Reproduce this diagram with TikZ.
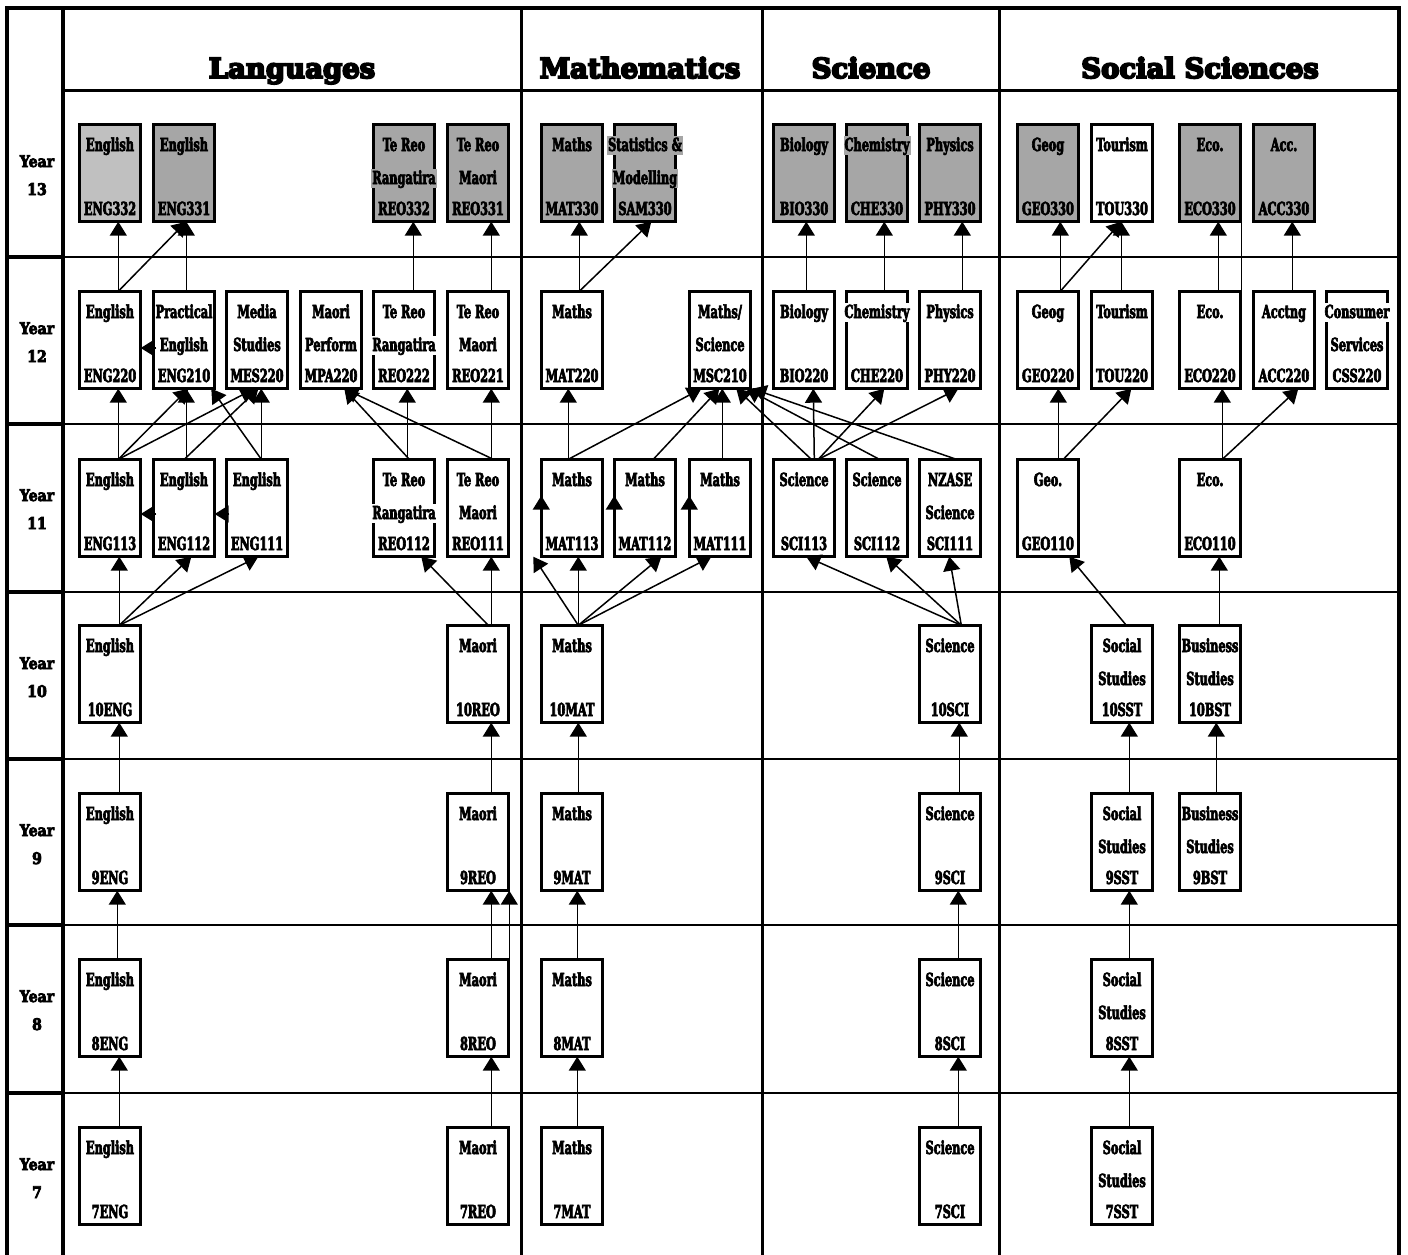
\documentclass[tikz,border=0pt]{standalone}
\usepackage{fontspec}
\setmainfont{DejaVu Serif}
\newfontfamily\lblfont[FakeStretch=0.63,FakeBold=3.5]{DejaVu Serif}
\newfontfamily\yrfont[FakeStretch=0.88,FakeBold=5]{DejaVu Serif}
\newfontfamily\hdrfont[FakeStretch=1.0,FakeBold=7]{DejaVu Serif}
\usetikzlibrary{arrows.meta,calc}
\definecolor{gA}{HTML}{A6A6A6}
\definecolor{gB}{HTML}{C0C0C0}
\tikzset{
  outerline/.style={line width=3.5pt},
  yrline/.style={line width=4pt},
  colline/.style={line width=3pt},
  rowline/.style={line width=2pt},
  cbox/.style={draw=black, line width=2.6pt, minimum width=61.4pt, minimum height=97.4pt, inner sep=0pt, outer sep=0pt},
  tline/.style={font=\lblfont\bfseries\fontsize{18pt}{20pt}\selectfont, inner xsep=1pt, inner ysep=1pt, text height=14pt, text depth=3pt, anchor=base},
  hdr/.style={font=\hdrfont\bfseries\fontsize{27.5pt}{30pt}\selectfont, anchor=base, inner sep=0pt},
  yrst/.style={font=\yrfont\bfseries\fontsize{16pt}{18pt}\selectfont, anchor=base, inner sep=0pt},
  arr/.style={line width=1.5pt, -{Triangle[length=14pt,width=17pt]}},
  plainconn/.style={line width=1.5pt},
}
\newcommand\course[7]{%
  \node[cbox, fill=#4] (#1) at (#2+32,#3+50) {};
  \node[tline, fill=#4] (#1-a) at (#2+32,#3+28) {#5};
  \def\mytmp{#6}\ifx\mytmp\empty\else
  \node[tline, fill=#4] (#1-b) at (#2+32,#3+61) {#6};\fi
  \node[tline, fill=#4] (#1-c) at (#2+32,#3+92) {#7};
}
\newcommand\conn[4]{\draw[arr] ($(#1.north west)+(#2,0)$) -- ($(#3.south west)+(#4,0)$);}
\newcommand\plainc[4]{\draw[plainconn] ($(#1.north west)+(#2,0)$) -- ($(#3.south west)+(#4,0)$);}
\begin{document}
\begin{tikzpicture}[x=1pt,y=-1pt]
\useasboundingbox (0,0) rectangle (1408,1255);
% grid
\draw[outerline] (7,1255) -- (7,8) -- (1399,8) -- (1399,1255);
\draw[yrline] (63,8) -- (63,1255);
\draw[colline] (63,90) -- (1399,90);
\foreach \y in {257,424,592,759,925,1093} {
  \draw[rowline] (63,\y) -- (1399,\y);
  \draw[yrline] (7,\y) -- (63,\y);
}
\foreach \x in {521,762,999} { \draw[colline] (\x,8) -- (\x,1255); }
% headers
\node[hdr] (hLang) at (292,78) {Languages};
\node[hdr] (hMath) at (640,78) {Mathematics};
\node[hdr] (hSci) at (871,78) {Science};
\node[hdr] (hSoc) at (1200,78) {Social Sciences};
% year labels
\foreach \t/\lab in {90/13,257/12,424/11,592/10,759/9,925/8,1093/7} {
  \node[yrst] (yr\lab a) at (37,\t+77) {Year};
  \node[yrst] (yr\lab b) at (37,\t+105) {\lab};
}
% ---- Year 13
\course{ENG332}{78}{123}{gB}{English}{}{ENG332}
\course{ENG331}{152}{123}{gA}{English}{}{ENG331}
\course{REO332}{372}{123}{gA}{Te Reo}{Rangatira}{REO332}
\course{REO331}{446}{123}{gA}{Te Reo}{Maori}{REO331}
\course{MAT330}{540}{123}{gA}{Maths}{}{MAT330}
\course{SAM330}{613}{123}{gA}{Statistics \&}{Modelling}{SAM330}
\course{BIO330}{772}{123}{gA}{Biology}{}{BIO330}
\course{CHE330}{845}{123}{gA}{Chemistry}{}{CHE330}
\course{PHY330}{918}{123}{gA}{Physics}{}{PHY330}
\course{GEO330}{1016}{123}{gA}{Geog}{}{GEO330}
\course{TOU330}{1090}{123}{white}{Tourism}{}{TOU330}
\course{ECO330}{1178}{123}{gA}{Eco.}{}{ECO330}
\course{ACC330}{1252}{123}{gA}{Acc.}{}{ACC330}
% ---- Year 12
\course{ENG220}{78}{290}{white}{English}{}{ENG220}
\course{ENG210}{152}{290}{white}{Practical}{English}{ENG210}
\course{MES220}{225}{290}{white}{Media}{Studies}{MES220}
\course{MPA220}{299}{290}{white}{Maori}{Perform}{MPA220}
\course{REO222}{372}{290}{white}{Te Reo}{Rangatira}{REO222}
\course{REO221}{446}{290}{white}{Te Reo}{Maori}{REO221}
\course{MAT220}{540}{290}{white}{Maths}{}{MAT220}
\course{MSC210}{688}{290}{white}{Maths/}{Science}{MSC210}
\course{BIO220}{772}{290}{white}{Biology}{}{BIO220}
\course{CHE220}{845}{290}{white}{Chemistry}{}{CHE220}
\course{PHY220}{918}{290}{white}{Physics}{}{PHY220}
\course{GEO220}{1016}{290}{white}{Geog}{}{GEO220}
\course{TOU220}{1090}{290}{white}{Tourism}{}{TOU220}
\course{ECO220}{1178}{290}{white}{Eco.}{}{ECO220}
\course{ACC220}{1252}{290}{white}{Acctng}{}{ACC220}
\course{CSS220}{1325}{290}{white}{Consumer}{Services}{CSS220}
% ---- Year 11
\course{ENG113}{78}{458}{white}{English}{}{ENG113}
\course{ENG112}{152}{458}{white}{English}{}{ENG112}
\course{ENG111}{225}{458}{white}{English}{}{ENG111}
\course{REO112}{372}{458}{white}{Te Reo}{Rangatira}{REO112}
\course{REO111}{446}{458}{white}{Te Reo}{Maori}{REO111}
\course{MAT113}{540}{458}{white}{Maths}{}{MAT113}
\course{MAT112}{613}{458}{white}{Maths}{}{MAT112}
\course{MAT111}{688}{458}{white}{Maths}{}{MAT111}
\course{SCI113}{772}{458}{white}{Science}{}{SCI113}
\course{SCI112}{845}{458}{white}{Science}{}{SCI112}
\course{SCI111}{918}{458}{white}{NZASE}{Science}{SCI111}
\course{GEO110}{1016}{458}{white}{Geo.}{}{GEO110}
\course{ECO110}{1178}{458}{white}{Eco.}{}{ECO110}
% ---- Year 10
\course{YtENG}{78}{624}{white}{English}{}{10ENG}
\course{YtREO}{446}{624}{white}{Maori}{}{10REO}
\course{YtMAT}{540}{624}{white}{Maths}{}{10MAT}
\course{YtSCI}{918}{624}{white}{Science}{}{10SCI}
\course{YtSST}{1090}{624}{white}{Social}{Studies}{10SST}
\course{YtBST}{1178}{624}{white}{Business}{Studies}{10BST}
% ---- Year 9
\course{YnENG}{78}{792}{white}{English}{}{9ENG}
\course{YnREO}{446}{792}{white}{Maori}{}{9REO}
\course{YnMAT}{540}{792}{white}{Maths}{}{9MAT}
\course{YnSCI}{918}{792}{white}{Science}{}{9SCI}
\course{YnSST}{1090}{792}{white}{Social}{Studies}{9SST}
\course{YnBST}{1178}{792}{white}{Business}{Studies}{9BST}
% ---- Year 8
\course{YeENG}{78}{958}{white}{English}{}{8ENG}
\course{YeREO}{446}{958}{white}{Maori}{}{8REO}
\course{YeMAT}{540}{958}{white}{Maths}{}{8MAT}
\course{YeSCI}{918}{958}{white}{Science}{}{8SCI}
\course{YeSST}{1090}{958}{white}{Social}{Studies}{8SST}
% ---- Year 7
\course{YsENG}{78}{1126}{white}{English}{}{7ENG}
\course{YsREO}{446}{1126}{white}{Maori}{}{7REO}
\course{YsMAT}{540}{1126}{white}{Maths}{}{7MAT}
\course{YsSCI}{918}{1126}{white}{Science}{}{7SCI}
\course{YsSST}{1090}{1126}{white}{Social}{Studies}{7SST}
% ===== connectors 12 -> 13
\conn{ENG220}{39}{ENG332}{39}
\conn{ENG220}{39}{ENG331}{33}
\conn{ENG210}{33}{ENG331}{33}
\conn{REO222}{40}{REO332}{40}
\conn{REO221}{44}{REO331}{44}
\conn{MAT220}{38}{MAT330}{38}
\conn{MAT220}{38}{SAM330}{37}
\conn{BIO220}{33}{BIO330}{33}
\conn{CHE220}{38}{CHE330}{38}
\conn{PHY220}{43}{PHY330}{43}
\conn{GEO220}{43}{GEO330}{43}
\conn{GEO220}{43}{TOU330}{30}
\conn{TOU220}{30}{TOU330}{30}
\conn{ECO220}{39}{ECO330}{39}
\plainc{ECO220}{62}{ECO330}{62}
\conn{ACC220}{39}{ACC330}{39}
% ===== 11 -> 12
\conn{ENG113}{39}{ENG220}{39}
\conn{ENG113}{39}{ENG210}{35}
\conn{ENG113}{39}{MES220}{28}
\conn{ENG112}{33}{ENG210}{33}
\conn{ENG112}{31}{MES220}{32}
\conn{ENG111}{35}{ENG210}{58}
\conn{ENG111}{35}{MES220}{35}
\conn{REO112}{36}{MPA220}{44}
\conn{REO112}{34}{REO222}{34}
\conn{REO111}{46}{MPA220}{44}
\conn{REO111}{44}{REO221}{44}
\conn{MAT113}{27}{MAT220}{27}
\conn{MAT113}{27}{MSC210}{12}
\conn{MAT112}{39}{MSC210}{30}
\conn{MAT111}{33}{MSC210}{33}
\conn{SCI113}{38}{MSC210}{47}
\conn{SCI112}{33}{MSC210}{57}
\conn{SCI111}{37}{MSC210}{63}
\conn{SCI113}{41}{BIO220}{40}
\conn{SCI113}{45}{CHE220}{38}
\conn{SCI113}{45}{PHY220}{39}
\conn{GEO110}{41}{GEO220}{41}
\conn{GEO110}{46}{TOU220}{40}
\conn{ECO110}{43}{ECO220}{43}
\conn{ECO110}{43}{ACC220}{45}
% side arrows
\draw[arr] ($(ENG210.west)+(3,8)$) -- ($(ENG220.east)+(0,8)$);
\draw[arr] ($(ENG112.west)+(3,6)$) -- ($(ENG113.east)+(0,6)$);
\draw[arr] ($(ENG111.west)+(3,6)$) -- ($(ENG112.east)+(0,6)$);
\draw[arr] ($(MAT113.south west)+(0,-33)$) -- ($(MAT113.south west)+(0,-61)$);
\draw[arr] ($(MAT112.south west)+(0,-33)$) -- ($(MAT112.south west)+(0,-61)$);
\draw[arr] ($(MAT111.south west)+(0,-33)$) -- ($(MAT111.south west)+(0,-61)$);
% ===== 10 -> 11
\conn{YtENG}{40}{ENG113}{40}
\conn{YtENG}{40}{ENG112}{38}
\conn{YtENG}{40}{ENG111}{32}
\conn{YtREO}{41}{REO112}{48}
\conn{YtREO}{44}{REO111}{44}
\conn{YtMAT}{37}{MAT113}{-8}
\conn{YtMAT}{37}{MAT113}{37}
\conn{YtMAT}{37}{MAT112}{47}
\conn{YtMAT}{37}{MAT111}{22}
\conn{YtSCI}{42}{SCI113}{33}
\conn{YtSCI}{42}{SCI112}{40}
\conn{YtSCI}{42}{SCI111}{30}
\conn{YtSST}{35}{GEO110}{52}
\conn{YtBST}{40}{ECO110}{40}
% ===== 9 -> 10
\conn{YnENG}{40}{YtENG}{40}
\conn{YnREO}{44}{YtREO}{44}
\conn{YnMAT}{37}{YtMAT}{37}
\conn{YnSCI}{40}{YtSCI}{40}
\conn{YnSST}{38}{YtSST}{38}
\conn{YnBST}{37}{YtBST}{37}
% ===== 8 -> 9
\conn{YeENG}{38}{YnENG}{38}
\conn{YeREO}{44}{YnREO}{44}
\conn{YeREO}{62}{YnREO}{62}
\conn{YeMAT}{36}{YnMAT}{36}
\conn{YeSCI}{39}{YnSCI}{39}
\conn{YeSST}{38}{YnSST}{38}
% ===== 7 -> 8
\conn{YsENG}{40}{YeENG}{40}
\conn{YsREO}{44}{YeREO}{44}
\conn{YsMAT}{36}{YeMAT}{36}
\conn{YsSCI}{39}{YeSCI}{39}
\conn{YsSST}{38}{YeSST}{38}
\end{tikzpicture}
\end{document}
